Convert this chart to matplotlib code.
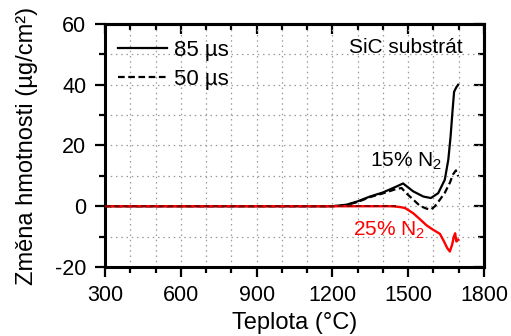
import matplotlib
matplotlib.use("Agg")
import matplotlib.pyplot as plt
from matplotlib.ticker import MultipleLocator

plt.rcParams['font.family'] = ['Liberation Sans', 'DejaVu Sans']
plt.rcParams['axes.unicode_minus'] = False
plt.rcParams['mathtext.fontset'] = 'custom'
plt.rcParams['mathtext.rm'] = 'Liberation Sans'
plt.rcParams['mathtext.it'] = 'Liberation Sans:italic'
plt.rcParams['mathtext.bf'] = 'Liberation Sans:bold'

# 15% N2, 85 us (solid black)
t_85_15 = [300, 1200, 1256, 1300, 1349, 1399, 1454, 1480, 1520, 1560, 1590, 1619, 1645, 1659, 1668, 1676, 1682, 1691, 1698]
m_85_15 = [0, 0, 0.5, 1.6, 3.2, 4.5, 6.5, 7.5, 4.9, 3.2, 2.7, 4.3, 8.7, 15.3, 22.9, 31.7, 37.7, 39.2, 40.0]

# 15% N2, 50 us (dashed black)
t_50_15 = [300, 1200, 1256, 1300, 1349, 1399, 1450, 1474, 1490, 1520, 1547, 1573, 1590, 1606, 1626, 1645, 1665, 1678, 1689, 1698]
m_50_15 = [0, 0, 0.4, 1.4, 3.0, 4.2, 5.6, 6.0, 4.5, 2.2, 0.1, -0.8, -1.1, 0.0, 2.2, 4.4, 7.7, 10.5, 11.8, 9.9]

# 25% N2, 85 us (solid red)
t_85_25 = [300, 1430, 1450, 1470, 1488, 1520, 1547, 1573, 1600, 1626, 1642, 1655, 1665, 1674, 1681, 1686, 1691, 1698]
m_85_25 = [0, 0, -0.1, -0.3, -0.6, -2.3, -4.3, -6.3, -7.8, -9.1, -11.6, -13.8, -14.9, -12.7, -10.0, -8.9, -11.6, -11.0]

# 25% N2, 50 us (dashed dark red)
t_50_25 = [300, 1450]
m_50_25 = [0, 0]

x_ticks = [300, 600, 900, 1200, 1500, 1800]
y_ticks = [-20, 0, 20, 40, 60]

fig = plt.figure(figsize=(5.11, 3.36), dpi=100)
ax = fig.add_axes([0.2055, 0.2054, 0.7415, 0.7232])

ax.plot(t_85_15, m_85_15, color='black', lw=1.6, label='85 µs', zorder=4)
ax.plot(t_50_15, m_50_15, color='black', lw=1.6, ls=(0, (3, 1.6)), label='50 µs', zorder=4)
ax.plot(t_85_25, m_85_25, color='#ff0000', lw=1.7, zorder=5)
ax.plot(t_50_25, m_50_25, color='#8b0000', lw=1.4, ls=(0, (3, 1.6)), zorder=6)

ax.set_xlim(300, 1800)
ax.set_ylim(-20, 60)
ax.set_xticks(x_ticks)
ax.set_yticks(y_ticks)
ax.xaxis.set_minor_locator(MultipleLocator(100))
ax.yaxis.set_minor_locator(MultipleLocator(10))

# grid at every 100 deg and every 10 units
for xv in range(400, 1800, 100):
    ax.axvline(xv, color='#999999', lw=0.9, ls=(0, (1.2, 3)), zorder=1)
for yv in range(-10, 60, 10):
    ax.axhline(yv, color='#999999', lw=0.9, ls=(0, (1.2, 3)), zorder=1)

ax.tick_params(axis='both', which='major', direction='out', length=7, width=1.6,
               labelsize=15.5, top=False, right=False)
ax.tick_params(axis='x', which='major', pad=6)
ax.tick_params(axis='y', which='major', pad=6.5)
ax.tick_params(axis='both', which='minor', direction='out', length=4, width=1.6,
               top=False, right=False)

# mirrored inward ticks on top/right
secx = ax.secondary_xaxis('top')
secx.set_xticks(x_ticks)
secx.xaxis.set_minor_locator(MultipleLocator(100))
secx.tick_params(which='major', direction='in', length=7, width=1.6, labeltop=False)
secx.tick_params(which='minor', direction='in', length=4, width=1.6)
secx.spines['top'].set_linewidth(2.2)
secy = ax.secondary_yaxis('right')
secy.set_yticks(y_ticks)
secy.yaxis.set_minor_locator(MultipleLocator(10))
secy.tick_params(which='major', direction='in', length=7, width=1.6, labelright=False)
secy.tick_params(which='minor', direction='in', length=4, width=1.6)
secy.spines['right'].set_linewidth(2.2)

for s in ax.spines.values():
    s.set_linewidth(2.2)

ax.set_xlabel('Teplota (°C)', fontsize=17, labelpad=4)
ax.set_ylabel('Změna hmotnosti (µg/cm²)', fontsize=17, labelpad=12)

leg = ax.legend(loc='upper left', bbox_to_anchor=(0.0, 0.99), frameon=False,
                fontsize=16, handlelength=2.2, handletextpad=0.3, labelspacing=0.35,
                borderaxespad=0.2, borderpad=0.4)

ax.text(1717, 52.1, 'SiC substrát', fontsize=15, ha='right', va='center')
ax.text(1349, 14.7, '15% N$_2$', fontsize=15, ha='left', va='center', color='black')
ax.text(1281, -8, '25% N$_2$', fontsize=15, ha='left', va='center', color='#ff0000')

fig.savefig('out.png', dpi=100)
